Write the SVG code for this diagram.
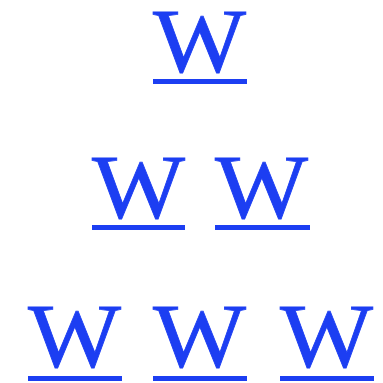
<svg xmlns="http://www.w3.org/2000/svg" width="383" height="383" viewBox="0 0 383 383">
<style>
.w{font-family:"Liberation Serif","Times New Roman",serif;font-size:91px;fill:#1c3ef2;stroke:#1c3ef2;stroke-width:0.8}
.u{fill:#1c3ef2}
</style>
<rect width="383" height="383" fill="#ffffff"/>
<g id="w1"><text class="w" x="153" y="72" textLength="93" lengthAdjust="spacingAndGlyphs">W</text><rect class="u" x="153" y="79" width="94" height="5"/></g>
<g id="w2"><text class="w" x="92" y="218" textLength="93" lengthAdjust="spacingAndGlyphs">W</text><rect class="u" x="92" y="225" width="93" height="5"/></g>
<g id="w3"><text class="w" x="215" y="218" textLength="93" lengthAdjust="spacingAndGlyphs">W</text><rect class="u" x="215" y="225" width="95" height="5"/></g>
<g id="w4"><text class="w" x="28" y="367" textLength="93" lengthAdjust="spacingAndGlyphs">W</text><rect class="u" x="28" y="376" width="94" height="5"/></g>
<g id="w5"><text class="w" x="153" y="367" textLength="93" lengthAdjust="spacingAndGlyphs">W</text><rect class="u" x="153" y="376" width="94" height="5"/></g>
<g id="w6"><text class="w" x="280" y="367" textLength="93" lengthAdjust="spacingAndGlyphs">W</text><rect class="u" x="280" y="376" width="94" height="5"/></g>
</svg>
